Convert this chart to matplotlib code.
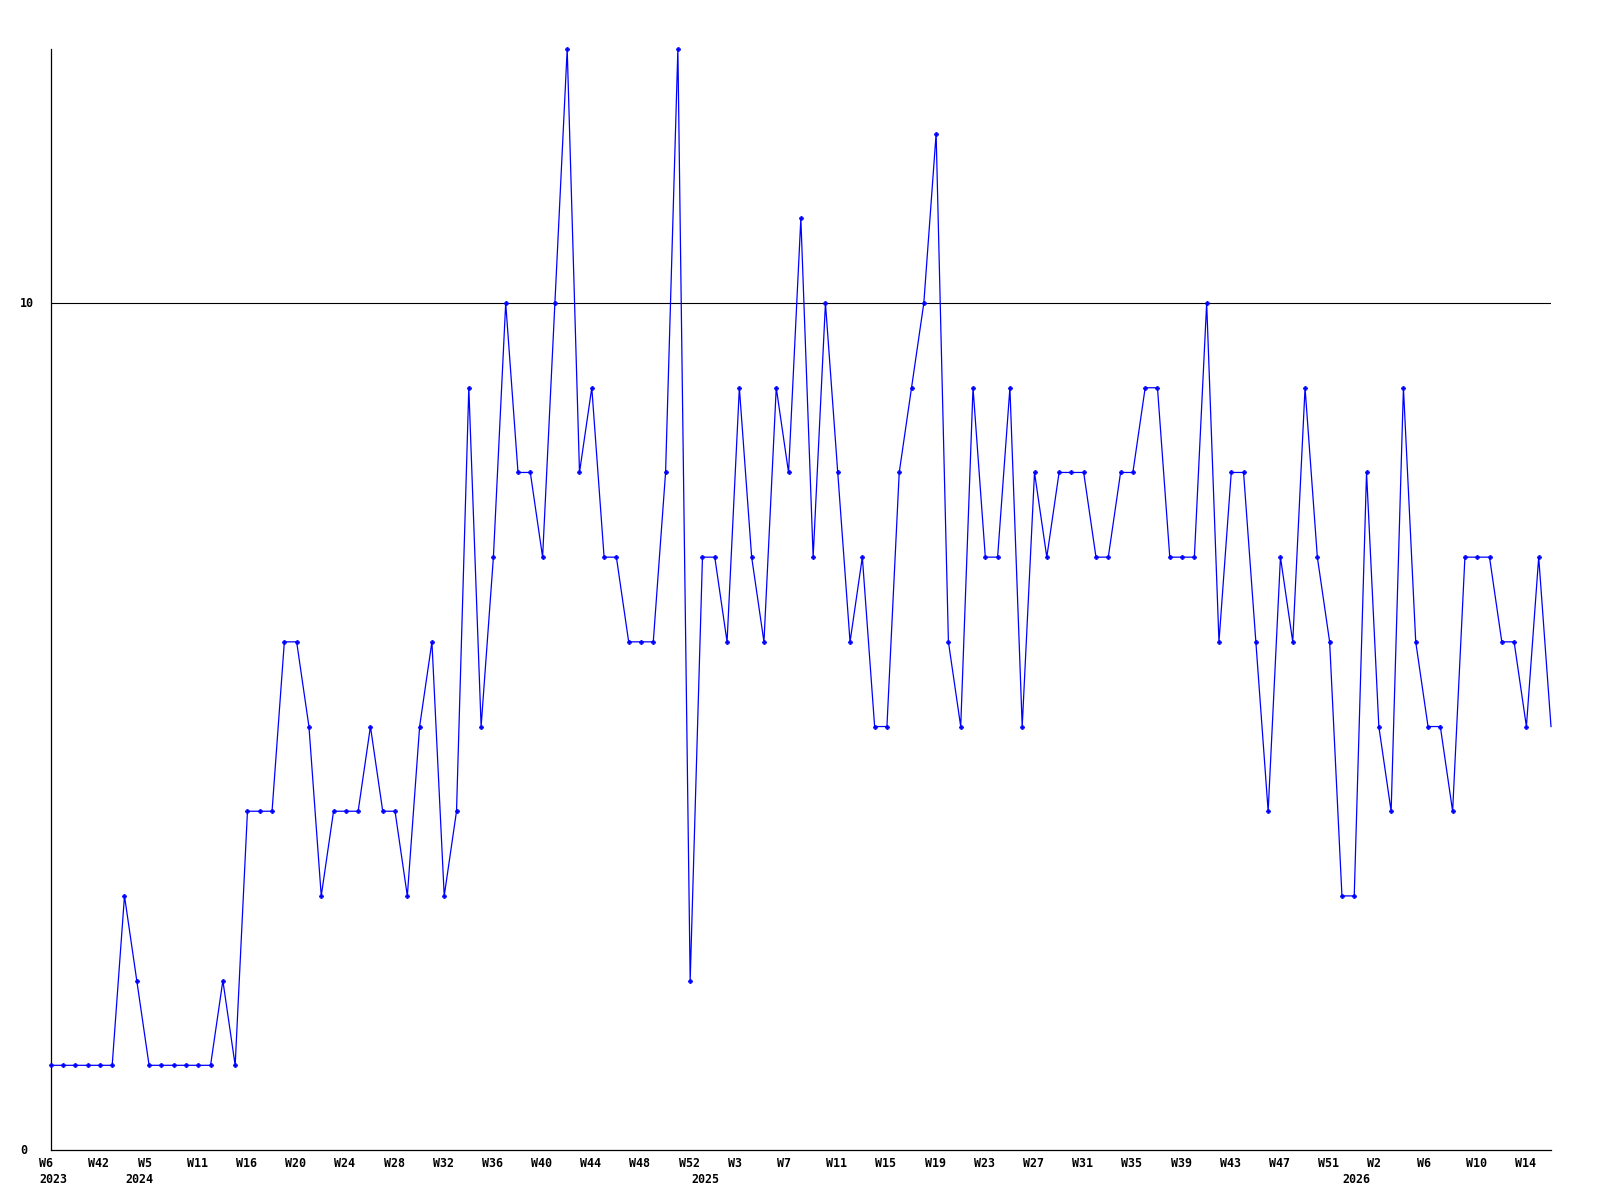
import matplotlib
matplotlib.use("Agg")
import matplotlib.pyplot as plt
import numpy as np

# weekly counts, one per point
values = [
    1, 1, 1, 1, 1, 1, 3, 2, 1, 1, 1, 1, 1, 1, 2, 1, 4, 4, 4, 6,
    6, 5, 3, 4, 4, 4, 5, 4, 4, 3, 5, 6, 3, 4, 9, 5, 7, 10, 8, 8,
    7, 10, 13, 8, 9, 7, 7, 6, 6, 6, 8, 13, 2, 7, 7, 6, 9, 7, 6, 9,
    8, 11, 7, 10, 8, 6, 7, 5, 5, 8, 9, 10, 12, 6, 5, 9, 7, 7, 9, 5,
    8, 7, 8, 8, 8, 7, 7, 8, 8, 9, 9, 7, 7, 7, 10, 6, 8, 8, 6, 4,
    7, 6, 9, 7, 6, 3, 3, 8, 5, 4, 9, 6, 5, 5, 4, 7, 7, 7, 6, 6,
    5, 7, 5,
]

# a week label on every 4th point
week_labels = [
    "W6", "W42", "W5", "W11", "W16", "W20", "W24", "W28", "W32", "W36",
    "W40", "W44", "W48", "W52", "W3", "W7", "W11", "W15", "W19", "W23",
    "W27", "W31", "W35", "W39", "W43", "W47", "W51", "W2", "W6", "W10",
    "W14",
]
label_step = 4

# year labels at the first point of each year
years = ["2023", "2024", "2025", "2026"]
year_points = [0, 7, 53, 106]

y_ticks = [0, 10]

x = np.arange(len(values))

fig = plt.figure(figsize=(16, 12), dpi=100)
ax = fig.add_axes([50.7 / 1600, 1 - 1150 / 1200, 1500.3 / 1600, 1101 / 1200])

ax.plot(x, values, color="#0000ff", lw=0.9, zorder=3, clip_on=False)
ax.plot(x[:-1], values[:-1], ls="none", marker="P", ms=3,
        mec="#0000ff", mfc="#0000ff", mew=0.5, clip_on=False, zorder=4)

ax.set_xlim(0, len(values) - 1)
ax.set_ylim(0, 13)

for s in ["top", "right"]:
    ax.spines[s].set_visible(False)
for s in ["left", "bottom"]:
    ax.spines[s].set_color("black")
    ax.spines[s].set_linewidth(0.9)

ax.set_xticks([])
ax.set_yticks([])

font = dict(family="DejaVu Sans Mono", fontweight="bold", fontsize=8.4)

# horizontal rule + label for the y ticks
for v in y_ticks:
    if v > 0:
        ax.axhline(v, color="black", lw=0.8, zorder=1)
    ax.annotate(str(v), xy=(0, v), xycoords=("figure pixels", "data"),
                xytext=(20, 0), textcoords="offset pixels",
                ha="left", va="center", **font)

for k, lab in enumerate(week_labels):
    ax.annotate(lab, xy=(k * label_step, 0), xycoords=("data", "axes fraction"),
                xytext=(-11.5, -7), textcoords="offset pixels",
                ha="left", va="top", annotation_clip=False, **font)

for yr, p in zip(years, year_points):
    ax.annotate(yr, xy=(p, 0), xycoords=("data", "axes fraction"),
                xytext=(-11.5, -23), textcoords="offset pixels",
                ha="left", va="top", annotation_clip=False, **font)

fig.savefig("out.png", dpi=100, facecolor="white")
